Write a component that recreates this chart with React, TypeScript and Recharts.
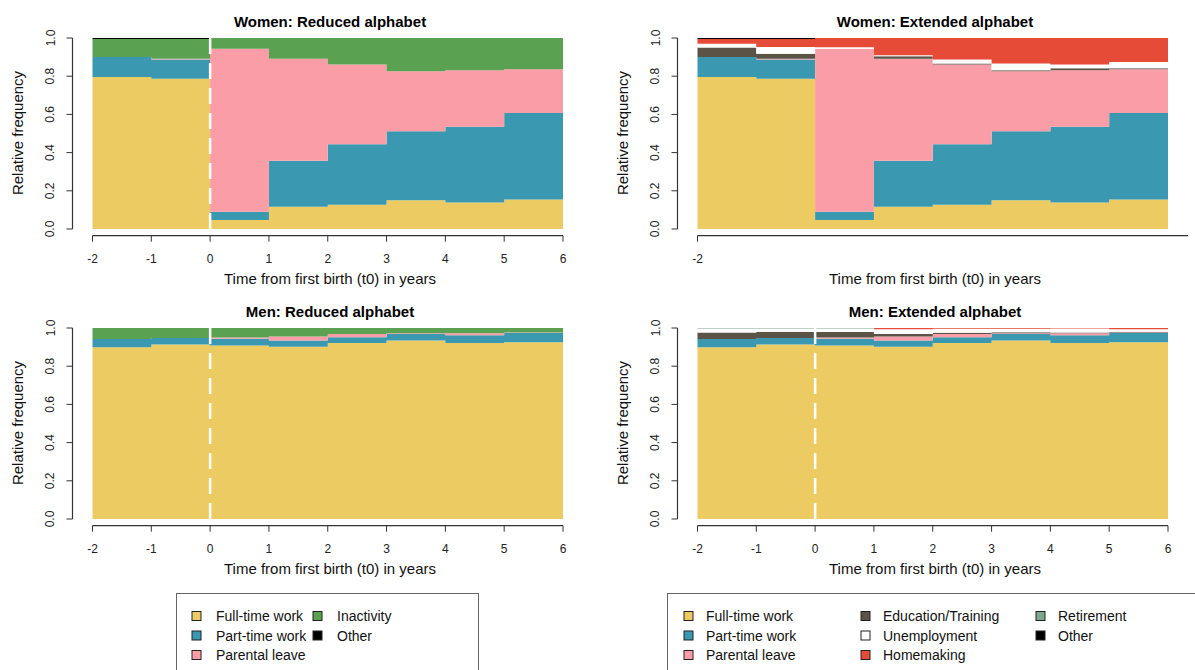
import { ComposedChart, Area, XAxis, YAxis, ReferenceLine } from "recharts"

const FONT = "'Liberation Sans', Arial, Helvetica, sans-serif"
const AXIS = "#333"

// year boundaries; each series holds one share per interval (-2..-1 up to 5..6)
const years = [-2, -1, 0, 1, 2, 3, 4, 5, 6]
const yTicks = [0, 0.2, 0.4, 0.6, 0.8, 1]

// Women, reduced alphabet
const womenRedFullTime = [0.796, 0.787, 0.047, 0.117, 0.127, 0.15, 0.139, 0.155]
const womenRedPartTime = [0.104, 0.1, 0.044, 0.24, 0.317, 0.362, 0.396, 0.453]
const womenRedParental = [0, 0.005, 0.853, 0.535, 0.417, 0.314, 0.296, 0.228]
const womenRedInactivity = [0.095, 0.103, 0.056, 0.108, 0.139, 0.174, 0.169, 0.164]
const womenRedOther = [0.005, 0.005, 0, 0, 0, 0, 0, 0]

// Women, extended alphabet
const womenExtFullTime = [0.796, 0.787, 0.047, 0.117, 0.127, 0.15, 0.139, 0.155]
const womenExtPartTime = [0.104, 0.1, 0.044, 0.24, 0.317, 0.362, 0.396, 0.453]
const womenExtParental = [0, 0.005, 0.853, 0.535, 0.417, 0.314, 0.296, 0.228]
const womenExtEducation = [0.05, 0.026, 0, 0.012, 0.005, 0.005, 0.01, 0.005]
const womenExtUnemployment = [0.02, 0.035, 0.008, 0.006, 0.021, 0.035, 0.02, 0.034]
const womenExtHomemaking = [0.025, 0.042, 0.048, 0.09, 0.113, 0.134, 0.139, 0.125]
const womenExtRetirement = [0, 0, 0, 0, 0, 0, 0, 0]
const womenExtOther = [0.005, 0.005, 0, 0, 0, 0, 0, 0]

// Men, reduced alphabet
const menRedFullTime = [0.899, 0.913, 0.909, 0.902, 0.921, 0.934, 0.921, 0.925]
const menRedPartTime = [0.043, 0.035, 0.035, 0.032, 0.03, 0.035, 0.041, 0.049]
const menRedParental = [0, 0, 0.006, 0.021, 0.018, 0.003, 0.01, 0.002]
const menRedInactivity = [0.058, 0.052, 0.05, 0.045, 0.031, 0.028, 0.028, 0.024]
const menRedOther = [0, 0, 0, 0, 0, 0, 0, 0]

// Men, extended alphabet
const menExtFullTime = [0.899, 0.913, 0.909, 0.902, 0.921, 0.934, 0.921, 0.925]
const menExtPartTime = [0.043, 0.035, 0.035, 0.032, 0.03, 0.035, 0.041, 0.049]
const menExtParental = [0, 0, 0.006, 0.021, 0.018, 0.003, 0.01, 0.002]
const menExtEducation = [0.034, 0.033, 0.029, 0.014, 0.006, 0.006, 0.004, 0.004]
const menExtUnemployment = [0.022, 0.017, 0.019, 0.025, 0.021, 0.018, 0.021, 0.014]
const menExtHomemaking = [0, 0, 0, 0.006, 0.004, 0.004, 0.003, 0.006]
const menExtRetirement = [0.002, 0.002, 0.002, 0, 0, 0, 0, 0]
const menExtOther = [0, 0, 0, 0, 0, 0, 0, 0]

type State = { key: string; label: string; color: string }

const reducedStates: State[] = [
  { key: "ft", label: "Full-time work", color: "#EDCB63" },
  { key: "pt", label: "Part-time work", color: "#3A98B0" },
  { key: "pl", label: "Parental leave", color: "#FA9DA6" },
  { key: "in", label: "Inactivity", color: "#5AA152" },
  { key: "ot", label: "Other", color: "#000000" },
]

const extendedStates: State[] = [
  { key: "ft", label: "Full-time work", color: "#EDCB63" },
  { key: "pt", label: "Part-time work", color: "#3A98B0" },
  { key: "pl", label: "Parental leave", color: "#FA9DA6" },
  { key: "ed", label: "Education/Training", color: "#5C5347" },
  { key: "un", label: "Unemployment", color: "#FFFFFF" },
  { key: "hm", label: "Homemaking", color: "#E54B37" },
  { key: "re", label: "Retirement", color: "#7DA68E" },
  { key: "ot", label: "Other", color: "#000000" },
]

// stepAfter needs a closing point at t=6 repeating the last interval
function toRows(series: Record<string, number[]>) {
  return years.map((t, i) => {
    const j = Math.min(i, years.length - 2)
    const row: Record<string, number> = { t }
    for (const k in series) row[k] = series[k][j]
    return row
  })
}

const womenRedRows = toRows({
  ft: womenRedFullTime, pt: womenRedPartTime, pl: womenRedParental,
  in: womenRedInactivity, ot: womenRedOther,
})
const womenExtRows = toRows({
  ft: womenExtFullTime, pt: womenExtPartTime, pl: womenExtParental, ed: womenExtEducation,
  un: womenExtUnemployment, hm: womenExtHomemaking, re: womenExtRetirement, ot: womenExtOther,
})
const menRedRows = toRows({
  ft: menRedFullTime, pt: menRedPartTime, pl: menRedParental,
  in: menRedInactivity, ot: menRedOther,
})
const menExtRows = toRows({
  ft: menExtFullTime, pt: menExtPartTime, pl: menExtParental, ed: menExtEducation,
  un: menExtUnemployment, hm: menExtHomemaking, re: menExtRetirement, ot: menExtOther,
})

const X_MIN = -2.34
const Y_MIN = -0.035

function YTick(props: any) {
  const { x, y, payload } = props
  return (
    <text
      x={x}
      y={y}
      transform={`rotate(-90, ${x}, ${y})`}
      textAnchor="middle"
      fontSize={12}
      fontFamily={FONT}
      fill="#222"
    >
      {Number(payload.value).toFixed(1)}
    </text>
  )
}

interface PanelProps {
  title: string
  left: number
  top: number
  rows: Record<string, number>[]
  states: State[]
  zeroLine: boolean
  xTicks: number[]
  axisEnd: number
}

function Panel({ title, left, top, rows, states, zeroLine, xTicks, axisEnd }: PanelProps) {
  return (
    <div style={{ position: "absolute", left, top, width: 590, height: 290 }}>
      <ComposedChart
        width={590}
        height={290}
        data={rows}
        margin={{ top: 38, right: 27, bottom: 14.3, left: 32.5 }}
      >
        <XAxis
          type="number"
          dataKey="t"
          domain={[X_MIN, 6]}
          ticks={xTicks}
          interval={0}
          allowDataOverflow
          axisLine={false}
          tickLine={{ stroke: AXIS }}
          tickSize={6}
          tickMargin={13}
          height={40}
          tick={{ fontSize: 12, fill: "#222", fontFamily: FONT }}
        />
        <YAxis
          type="number"
          domain={[Y_MIN, 1]}
          ticks={yTicks}
          interval={0}
          allowDataOverflow
          axisLine={false}
          tickLine={{ stroke: AXIS }}
          tickSize={6}
          tickMargin={12}
          width={40}
          tick={(p: any) => <YTick {...p} />}
        />
        {states.map((s) => (
          <Area
            key={s.key}
            type="stepAfter"
            dataKey={s.key}
            stackId="seq"
            fill={s.color}
            fillOpacity={1}
            stroke="none"
            activeDot={false}
            isAnimationActive={false}
          />
        ))}
        {zeroLine && (
          <ReferenceLine
            segment={[{ x: 0, y: 0 }, { x: 0, y: 1 }]}
            stroke="#fff"
            strokeWidth={2.5}
            strokeDasharray="16 9"
          />
        )}
        <ReferenceLine
          segment={[{ x: -2, y: Y_MIN }, { x: axisEnd, y: Y_MIN }]}
          stroke={AXIS}
          strokeWidth={1.2}
          ifOverflow="visible"
        />
        <ReferenceLine
          segment={[{ x: X_MIN, y: 0 }, { x: X_MIN, y: 1 }]}
          stroke={AXIS}
          strokeWidth={1.2}
          ifOverflow="visible"
        />
      </ComposedChart>
      <svg
        width={590}
        height={290}
        style={{ position: "absolute", left: 0, top: 0, pointerEvents: "none" }}
        fontFamily={FONT}
      >
        <text x={330} y={27} textAnchor="middle" fontSize={15} fontWeight="bold" fill="#000">
          {title}
        </text>
        <text x={330} y={284} textAnchor="middle" fontSize={15} fill="#111">
          Time from first birth (t0) in years
        </text>
        <text
          x={23}
          y={133}
          transform="rotate(-90, 23, 133)"
          textAnchor="middle"
          fontSize={15}
          fill="#111"
        >
          Relative frequency
        </text>
      </svg>
    </div>
  )
}

interface LegendProps {
  states: State[]
  boxX: number
  boxW: number
  colX: number[]
  textGap: number
}

function LegendBox({ states, boxX, boxW, colX, textGap }: LegendProps) {
  const rowY = [616, 635.5, 655]
  return (
    <g>
      <rect x={boxX} y={593.5} width={boxW} height={120} fill="none" stroke="#666" strokeWidth={1} />
      {states.map((s, i) => {
        const col = Math.floor(i / 3)
        const row = i % 3
        const sx = colX[col]
        const cy = rowY[row]
        return (
          <g key={s.key}>
            <rect x={sx} y={cy - 4.5} width={9} height={9} fill={s.color} stroke="#222" strokeWidth={1} />
            <text x={sx + textGap} y={cy + 5} fontSize={14} fill="#111">
              {s.label}
            </text>
          </g>
        )
      })}
    </g>
  )
}

export default function App() {
  return (
    <div
      style={{
        position: "absolute",
        left: 0,
        top: 0,
        width: 1195,
        height: 670,
        overflow: "hidden",
        background: "#fff",
        fontFamily: FONT,
      }}
    >
      <Panel
        title="Women: Reduced alphabet"
        left={0}
        top={0}
        rows={womenRedRows}
        states={reducedStates}
        zeroLine
        xTicks={years}
        axisEnd={6}
      />
      <Panel
        title="Women: Extended alphabet"
        left={604.5}
        top={0}
        rows={womenExtRows}
        states={extendedStates}
        zeroLine={false}
        xTicks={[-2]}
        axisEnd={6.34}
      />
      <Panel
        title="Men: Reduced alphabet"
        left={0}
        top={290}
        rows={menRedRows}
        states={reducedStates}
        zeroLine
        xTicks={years}
        axisEnd={6}
      />
      <Panel
        title="Men: Extended alphabet"
        left={604.5}
        top={290}
        rows={menExtRows}
        states={extendedStates}
        zeroLine
        xTicks={years}
        axisEnd={6}
      />
      <svg
        width={1195}
        height={670}
        style={{ position: "absolute", left: 0, top: 0, pointerEvents: "none" }}
        fontFamily={FONT}
      >
        <LegendBox states={reducedStates} boxX={176.5} boxW={302} colX={[192, 313]} textGap={24} />
        <LegendBox states={extendedStates} boxX={667.5} boxW={560} colX={[684, 861, 1036]} textGap={22} />
      </svg>
    </div>
  )
}
